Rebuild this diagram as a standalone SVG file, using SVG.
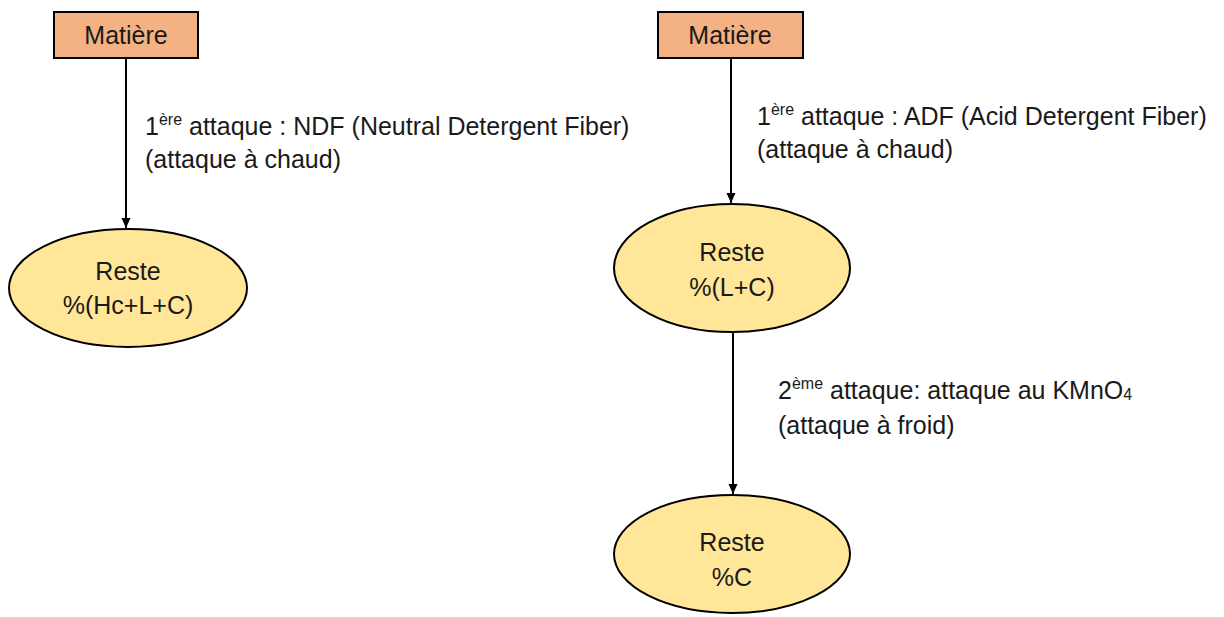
<svg xmlns="http://www.w3.org/2000/svg" width="1224" height="617" viewBox="0 0 1224 617">
<defs>
<marker id="arr" markerWidth="12" markerHeight="12" refX="10" refY="5" orient="auto" markerUnits="userSpaceOnUse">
<path d="M0,0.5 L10,5 L0,9.5 Z" fill="#000"/>
</marker>
<style>
text{font-family:"Liberation Sans",Arial,sans-serif;font-size:25px;fill:#1a1a1a}
.c{text-anchor:middle}
.box{fill:#F4B183;stroke:#000;stroke-width:2}
.ell{fill:#FFE699;stroke:#000;stroke-width:2}
.sup{font-size:16px}
.lnk{stroke:#000;stroke-width:2;fill:none;marker-end:url(#arr)}
</style>
</defs>
<rect width="1224" height="617" fill="#fff"/>
<g id="connectors">
<line class="lnk" x1="126" y1="58" x2="126" y2="228"/>
<line class="lnk" x1="731" y1="58" x2="731" y2="203"/>
<line class="lnk" x1="733" y1="333" x2="733" y2="494"/>
</g>
<g id="matiere1">
<rect class="box" x="54" y="12" width="144" height="46"/>
<text class="c" x="126" y="44">Matière</text>
</g>
<g id="label1">
<text x="145" y="135">1<tspan class="sup" dy="-10">ère</tspan><tspan dy="10"> attaque : NDF (Neutral Detergent Fiber)</tspan></text>
<text x="145" y="168">(attaque à chaud)</text>
</g>
<g id="reste1">
<ellipse class="ell" cx="128" cy="288" rx="119" ry="59"/>
<text class="c" x="128" y="280">Reste</text>
<text class="c" x="128" y="314">%(Hc+L+C)</text>
</g>
<g id="matiere2">
<rect class="box" x="658" y="12" width="145" height="46"/>
<text class="c" x="730" y="44">Matière</text>
</g>
<g id="label2">
<text x="757" y="125">1<tspan class="sup" dy="-10">ère</tspan><tspan dy="10"> attaque : ADF (Acid Detergent Fiber)</tspan></text>
<text x="757" y="158">(attaque à chaud)</text>
</g>
<g id="reste2">
<ellipse class="ell" cx="732" cy="268" rx="118" ry="64"/>
<text class="c" x="732" y="261">Reste</text>
<text class="c" x="732" y="296">%(L+C)</text>
</g>
<g id="label3">
<text x="778" y="399">2<tspan class="sup" dy="-10">ème</tspan><tspan dy="10"> attaque: attaque au KMnO</tspan><tspan class="sup" dy="1">4</tspan></text>
<text x="778" y="434">(attaque à froid)</text>
</g>
<g id="reste3">
<ellipse class="ell" cx="732" cy="554" rx="118" ry="59"/>
<text class="c" x="732" y="551">Reste</text>
<text class="c" x="732" y="586">%C</text>
</g>
</svg>
